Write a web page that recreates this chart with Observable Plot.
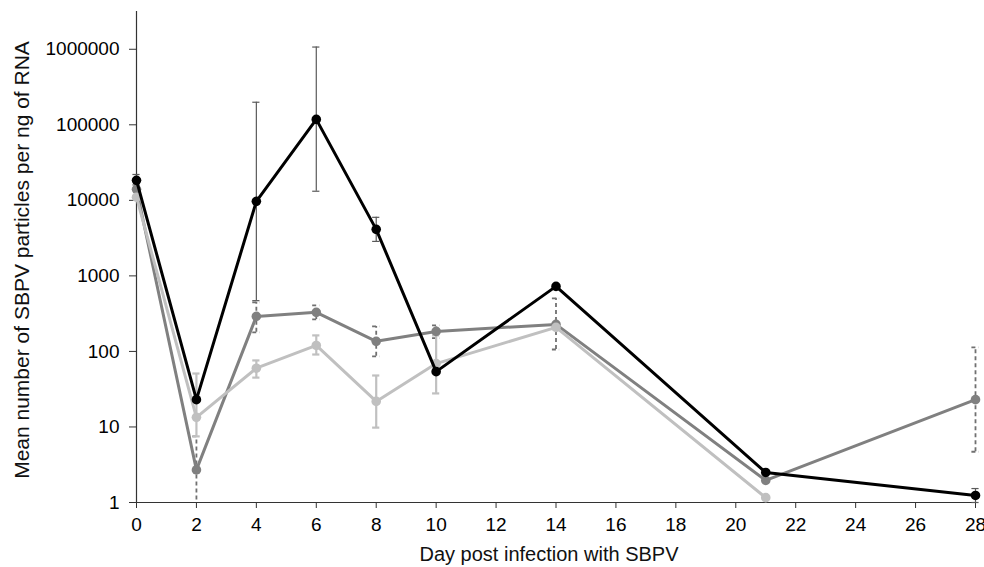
<!DOCTYPE html>
<html>
<head>
<meta charset="utf-8">
<script src="https://cdn.jsdelivr.net/npm/d3@7"></script>
<script src="https://cdn.jsdelivr.net/npm/@observablehq/plot@0.6"></script>
<style>
  html, body { margin: 0; padding: 0; background: #fff; }
  #chart svg { display: block; }
</style>
</head>
<body>
<div id="chart"></div>
<script>
const days = [0, 2, 4, 6, 8, 10, 14, 21, 28];

const blackMean = [18400, 23, 9700, 118000, 4130, 54, 726, 2.5, 1.24];
const blackLow  = [16000, null, 470, 13200, 2860, null, null, null, 1.0];
const blackHigh = [22000, null, 199000, 1070000, 5960, null, null, null, 1.53];

const grayMean = [14000, 2.7, 291, 329, 136, 184, 228, 1.96, 23];
const grayLow  = [null, 0.3, 179, 265, 86, 150, 106, null, 4.7];
const grayHigh = [null, 7.5, 446, 407, 214, 221, 504, null, 113];

const lightMean = [11000, 13.4, 60, 120, 21.8, 69, 208, 1.16, null];
const lightLow  = [null, 7.5, 45, 91, 9.8, 27.8, null, null, null];
const lightHigh = [null, 51, 76, 163, 48, 163, null, null, null];

const yTicks = [1, 10, 100, 1000, 10000, 100000, 1000000];
const xTicks = d3.range(0, 30, 2);
const xLabel = "Day post infection with SBPV";
const yLabel = "Mean number of SBPV particles per ng of RNA";

function rows(mean, low, high) {
  return days.map((d, i) => ({day: d, mean: mean[i], low: low[i], high: high[i]}))
             .filter(r => r.mean != null);
}
const black = rows(blackMean, blackLow, blackHigh);
const gray = rows(grayMean, grayLow, grayHigh);
const light = rows(lightMean, lightLow, lightHigh);
const errs = a => a.filter(r => r.low != null && r.high != null);

const capHalf = 0.12;
function errorMarks(data, stroke, width, dash) {
  const e = errs(data);
  const opts = {stroke, strokeWidth: width, strokeDasharray: dash};
  return [
    Plot.ruleX(e.filter(r => r.low >= 1), {x: "day", y1: "low", y2: "high", ...opts}),
    Plot.ruleX(e.filter(r => r.low < 1), {x: "day", y1: "low", y2: "high", ...opts, clip: true}),
    Plot.ruleY(e, {y: "high", x1: d => d.day - capHalf, x2: d => d.day + capHalf, ...opts}),
    Plot.ruleY(e.filter(r => r.low >= 1), {y: "low", x1: d => d.day - capHalf, x2: d => d.day + capHalf, ...opts})
  ];
}

const cGray = "#808080", cLight = "#c0c0c0", cBlack = "#000000";

const chart = Plot.plot({
  width: 984,
  height: 567,
  marginLeft: 136,
  marginRight: 9,
  marginTop: 11,
  marginBottom: 65,
  style: {fontFamily: "'Liberation Sans', Arial, sans-serif", fontSize: "19px", background: "#fff", color: "#000"},
  x: {domain: [0, 28]},
  y: {type: "log", domain: [1, Math.pow(10, 6.5)]},
  marks: [
    Plot.axisX({ticks: xTicks, tickSize: 6, tickPadding: 9, fontSize: 19, label: null, stroke: "#333"}),
    Plot.axisY({ticks: yTicks, tickFormat: d3.format("d"), tickSize: 7, tickPadding: 10, fontSize: 19, label: null, stroke: "#333"}),
    Plot.text([xLabel], {frameAnchor: "bottom", textAnchor: "middle", lineAnchor: "middle", dy: 52, dx: -7, fontSize: 20, fill: "#111"}),
    Plot.text([yLabel], {frameAnchor: "left", textAnchor: "middle", lineAnchor: "middle", rotate: -90, dx: -114, dy: 3, fontSize: 21, fill: "#111"}),
    Plot.ruleX([0], {stroke: "#333", strokeWidth: 1.2}),
    Plot.ruleY([1], {stroke: "#333", strokeWidth: 1.2}),
    ...errorMarks(gray, "#707070", 1.8, "4,3"),
    ...errorMarks(light, cLight, 2.2, null),
    ...errorMarks(black, "#5a5a5a", 1.2, null),
    Plot.line(gray, {x: "day", y: "mean", stroke: cGray, strokeWidth: 3}),
    Plot.dot(gray, {x: "day", y: "mean", fill: cGray, r: 4.8}),
    Plot.line(light, {x: "day", y: "mean", stroke: cLight, strokeWidth: 3}),
    Plot.dot(light, {x: "day", y: "mean", fill: cLight, r: 4.8}),
    Plot.line(black, {x: "day", y: "mean", stroke: cBlack, strokeWidth: 3}),
    Plot.dot(black, {x: "day", y: "mean", fill: cBlack, r: 4.8})
  ]
});
document.getElementById("chart").appendChild(chart);
</script>
</body>
</html>
